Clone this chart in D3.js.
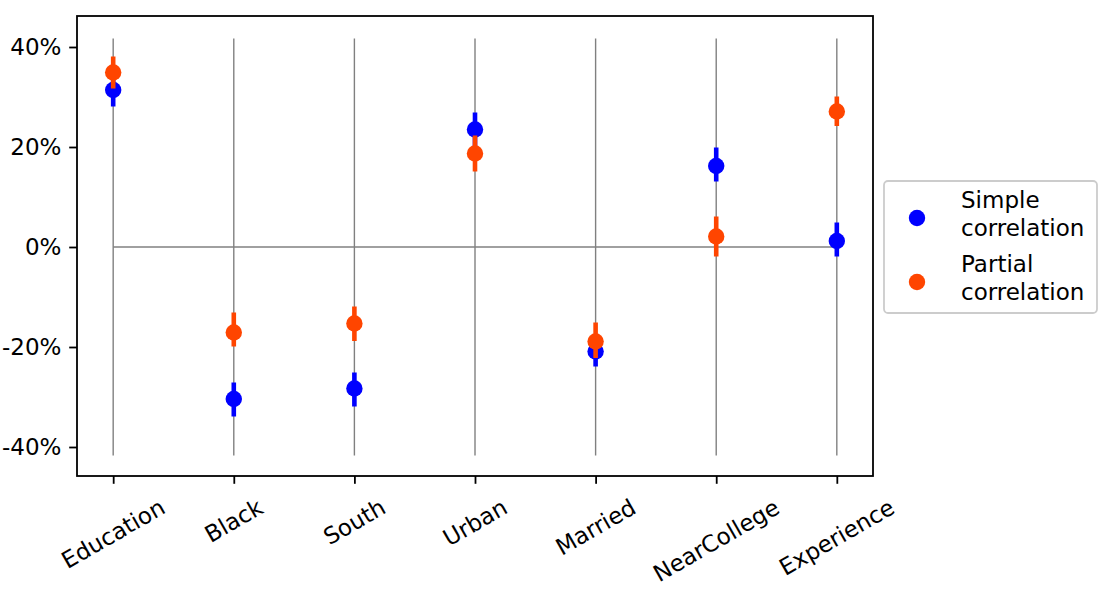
<!DOCTYPE html>
<html lang="en">
<head>
<meta charset="UTF-8">
<title>Simple vs partial correlation</title>
<script src="https://d3js.org/d3.v7.min.js"></script>
<style>
    body { margin: 0; background: #fff; }
    svg text { font-family: "DejaVu Sans", sans-serif; fill: #000; }
</style>
</head>
<body>
<div id="chart"></div>
<script>
    // data
    const categories = ["Education", "Black", "South", "Urban", "Married", "NearCollege", "Experience"];
    const simple     = [0.314, -0.304, -0.283, 0.235, -0.209, 0.162, 0.012];
    const simpleLow  = [0.281, -0.339, -0.319, 0.201, -0.239, 0.131, -0.019];
    const simpleHigh = [0.347, -0.271, -0.251, 0.269, -0.176, 0.199, 0.049];
    const partial     = [0.349, -0.171, -0.153, 0.187, -0.189, 0.021, 0.271];
    const partialLow  = [0.317, -0.199, -0.188, 0.151, -0.222, -0.019, 0.242];
    const partialHigh = [0.381, -0.131, -0.119, 0.223, -0.151, 0.061, 0.301];
    const yTicks = [-0.4, -0.2, 0, 0.2, 0.4];
    const seriesNames = [["Simple", "correlation"], ["Partial", "correlation"]];

    const width = 1100, height = 604;
    const mLeft = 77, mRight = 873, mTop = 16, mBottom = 476;
    const fs = 23, tickLen = 7.8, pad = 7.8;
    const colors = ["#0000ff", "#ff4500"];

    const svg = d3.select("#chart").append("svg")
        .attr("width", width)
        .attr("height", height);

    const x = d3.scaleLinear().domain([-0.3, categories.length - 0.7]).range([mLeft, mRight]);
    const y = d3.scaleLinear().domain([-0.458, 0.462]).range([mBottom, mTop]);

    // gray guide lines
    svg.append("g").selectAll("line")
        .data(categories)
        .enter().append("line")
        .attr("x1", (d, i) => x(i)).attr("x2", (d, i) => x(i))
        .attr("y1", y(0.417)).attr("y2", y(-0.417))
        .attr("stroke", "#808080").attr("stroke-width", 1.4);
    svg.append("line")
        .attr("x1", x(0)).attr("x2", x(categories.length - 1))
        .attr("y1", y(0)).attr("y2", y(0))
        .attr("stroke", "#808080").attr("stroke-width", 1.4);

    // series: error bar then marker
    const series = [
        { v: simple, lo: simpleLow, hi: simpleHigh, c: colors[0] },
        { v: partial, lo: partialLow, hi: partialHigh, c: colors[1] }
    ];
    series.forEach(s => {
        const g = svg.append("g");
        g.selectAll("line")
            .data(s.v)
            .enter().append("line")
            .attr("x1", (d, i) => x(i)).attr("x2", (d, i) => x(i))
            .attr("y1", (d, i) => y(s.lo[i])).attr("y2", (d, i) => y(s.hi[i]))
            .attr("stroke", s.c).attr("stroke-width", 4.6);
        g.selectAll("circle")
            .data(s.v)
            .enter().append("circle")
            .attr("cx", (d, i) => x(i))
            .attr("cy", d => y(d))
            .attr("r", 8.2)
            .attr("fill", s.c);
    });

    // frame
    svg.append("rect")
        .attr("x", mLeft).attr("y", mTop)
        .attr("width", mRight - mLeft).attr("height", mBottom - mTop)
        .attr("fill", "none").attr("stroke", "#000").attr("stroke-width", 1.8);

    // y axis
    const yAxis = d3.axisLeft(y)
        .tickValues(yTicks)
        .tickSize(tickLen)
        .tickPadding(pad)
        .tickFormat(d => Math.round(d * 100) + "%");
    const gy = svg.append("g").attr("transform", "translate(" + mLeft + ",0)").call(yAxis);
    gy.select(".domain").remove();
    gy.selectAll("line").attr("stroke-width", 1.8);
    gy.selectAll("text").style("font-size", fs + "px").attr("font-family", null);

    // x axis with rotated labels
    const xAxis = d3.axisBottom(x)
        .tickValues(d3.range(categories.length))
        .tickSize(tickLen)
        .tickFormat("");
    const gx = svg.append("g").attr("transform", "translate(0," + mBottom + ")").call(xAxis);
    gx.select(".domain").remove();
    gx.selectAll("line").attr("stroke-width", 1.8);

    const labelTop = mBottom + tickLen + pad + 2;
    const ang = 30 * Math.PI / 180;
    categories.forEach((c, i) => {
        const t = svg.append("text")
            .style("font-size", fs + "px")
            .attr("text-anchor", "middle")
            .attr("dominant-baseline", "central")
            .text(c);
        const L = t.node().getComputedTextLength();
        const H = fs * 1.16;
        const bh = L * Math.sin(ang) + H * Math.cos(ang);
        t.attr("transform", "translate(" + x(i) + "," + (labelTop + bh / 2) + ") rotate(-30)");
    });

    // legend
    const lg = svg.append("g").attr("transform", "translate(884,181)");
    lg.append("rect")
        .attr("width", 213).attr("height", 132)
        .attr("rx", 4)
        .attr("fill", "#fff").attr("stroke", "#cccccc").attr("stroke-width", 1.8);
    seriesNames.forEach((n, i) => {
        lg.append("circle")
            .attr("cx", 33).attr("cy", 37 + i * 64)
            .attr("r", 8.2).attr("fill", colors[i]);
        lg.append("text")
            .attr("x", 77).attr("y", 27 + i * 64)
            .style("font-size", fs + "px")
            .text(n[0]);
        lg.append("text")
            .attr("x", 77).attr("y", 55 + i * 64)
            .style("font-size", fs + "px")
            .text(n[1]);
    });
</script>
</body>
</html>
